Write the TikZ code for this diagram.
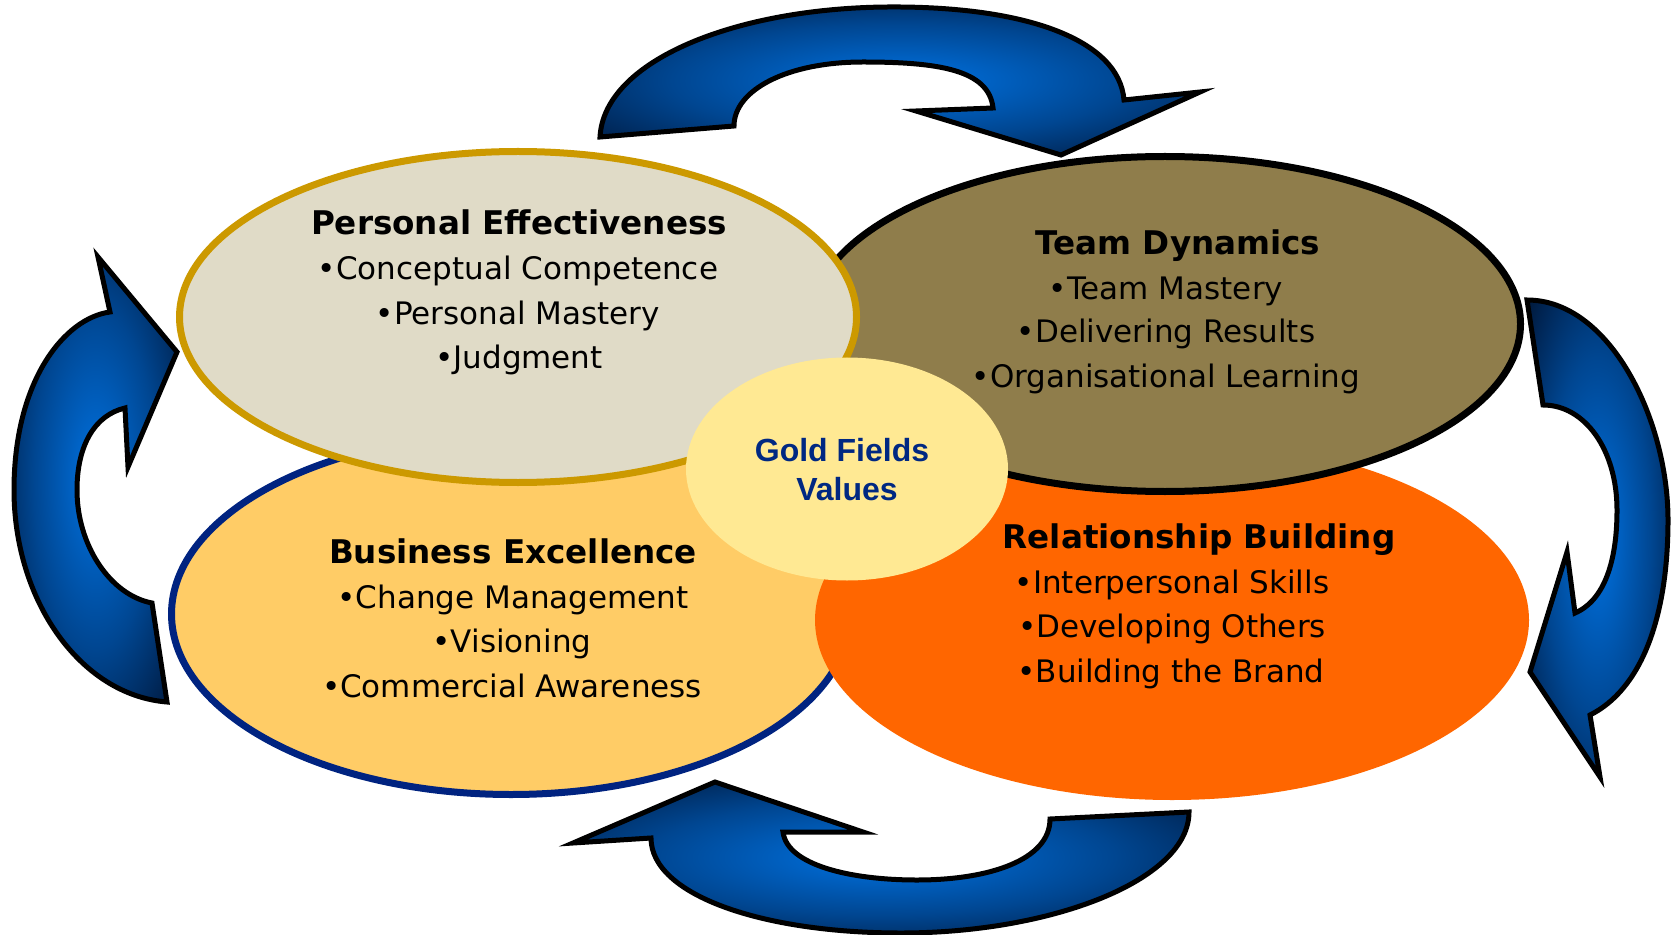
\documentclass[tikz,border=0pt]{standalone}
\usepackage{fontspec}
\setmainfont{DejaVu Sans}
\newfontfamily\gfont{Liberation Sans}
\usetikzlibrary{shapes.geometric}
\definecolor{peFill}{RGB}{224,219,199}
\definecolor{peLine}{RGB}{204,153,0}
\definecolor{tdFill}{RGB}{143,125,75}
\definecolor{beFill}{RGB}{255,204,102}
\definecolor{beLine}{RGB}{0,35,128}
\definecolor{rbFill}{RGB}{255,102,0}
\definecolor{cFill}{RGB}{255,233,147}
\definecolor{gfText}{RGB}{0,40,130}
\definecolor{aBright}{RGB}{0,100,200}
\definecolor{aMid}{RGB}{0,70,145}
\definecolor{aDeep}{RGB}{0,36,82}
\definecolor{aDark}{RGB}{0,4,12}
\pgfdeclareradialshading{arrowshade}{\pgfpoint{0bp}{0bp}}{color(0bp)=(aBright); color(6bp)=(aBright); color(19bp)=(aMid); color(31bp)=(aDeep); color(43bp)=(aDark); color(100bp)=(aDark)}
\tikzset{
  blob/.style={ellipse, inner sep=0pt, outer sep=0pt},
  ttl/.style={anchor=base, inner sep=0pt, font=\fontsize{16.3}{18}\selectfont\bfseries},
  itm/.style={anchor=base, inner sep=0pt, font=\fontsize{15.5}{18}\selectfont},
  gft/.style={anchor=base, inner sep=0pt, text=gfText, font=\gfont\fontsize{16}{18}\selectfont\bfseries},
  cyc/.style={draw=black, line width=2.5pt, shading=arrowshade}
}
\begin{document}
\begin{tikzpicture}[x=0.5pt,y=-0.5pt]
\useasboundingbox (0,0) rectangle (1674,935);
% ellipses (back to front)
\node[blob, fill=beFill, draw=beLine, line width=3.5pt, minimum width=339.5pt, minimum height=180.5pt] (be) at (511,614) {};
\node[blob, fill=rbFill, minimum width=357pt, minimum height=180pt] (rb) at (1172,620) {};
\node[blob, fill=tdFill, draw=black, line width=3.5pt, minimum width=355.5pt, minimum height=167.5pt] (td) at (1165,324) {};
\node[blob, fill=peFill, draw=peLine, line width=3.5pt, minimum width=338.5pt, minimum height=165.5pt] (pe) at (518,317) {};
\node[blob, fill=cFill, minimum width=161pt, minimum height=111.5pt] (gf) at (847,469) {};
% texts
\node[ttl] (pe0) at (519,235) {Personal Effectiveness};
\node[itm] (pe1) at (518,280) {•Conceptual Competence};
\node[itm] (pe2) at (518,325) {•Personal Mastery};
\node[itm] (pe3) at (519,368) {•Judgment};
\node[ttl] (td0) at (1178,255) {Team Dynamics};
\node[itm] (td1) at (1166,300) {•Team Mastery};
\node[itm] (td2) at (1166,343) {•Delivering Results};
\node[itm] (td3) at (1166,387) {•Organisational Learning};
\node[ttl] (be0) at (513,563) {Business Excellence};
\node[itm] (be1) at (513,608) {•Change Management};
\node[itm] (be2) at (512,652) {•Visioning};
\node[itm] (be3) at (512,697) {•Commercial Awareness};
\node[ttl] (rb0) at (1199,548) {Relationship Building};
\node[itm] (rb1) at (1172,593) {•Interpersonal Skills};
\node[itm] (rb2) at (1172,637) {•Developing Others};
\node[itm] (rb3) at (1171,682) {•Building the Brand};
\node[gft] (gf1) at (842,461) {Gold Fields};
\node[gft] (gf2) at (847,500) {Values};
% cycle arrows
\path[cyc] (600,137) .. controls (604,60) and (737,8) .. (888,7)
  .. controls (1027,6) and (1119,40) .. (1124,100)
  -- (1200,92) -- (1061,155) -- (916,111) -- (993,108)
  .. controls (989,70) and (939,62) .. (863,62)
  .. controls (787,62) and (734,90) .. (734,126) -- cycle;
\path[cyc] (1527,300) .. controls (1610,300) and (1668,420) .. (1668,520)
  .. controls (1668,620) and (1640,690) .. (1590,715)
  -- (1600,777) -- (1530,672) -- (1567,552) -- (1575,613)
  .. controls (1605,600) and (1617,560) .. (1617,510)
  .. controls (1617,450) and (1585,405) .. (1543,405) -- cycle;
\path[cyc] (1189,812) .. controls (1189,880) and (1052,933) .. (901,933)
  .. controls (762,933) and (651,895) .. (651,838)
  -- (573,843) -- (715,782) -- (863,832) -- (783,832)
  .. controls (787,865) and (850,880) .. (917,880)
  .. controls (989,880) and (1050,860) .. (1050,819) -- cycle;
\path[cyc] (167,702) .. controls (80,695) and (14,600) .. (14,490)
  .. controls (14,380) and (65,318) .. (110,312)
  -- (98,257) -- (177,352) -- (128,467) -- (125,408)
  .. controls (95,415) and (77,445) .. (77,490)
  .. controls (77,545) and (110,595) .. (152,603) -- cycle;
\end{tikzpicture}
\end{document}
